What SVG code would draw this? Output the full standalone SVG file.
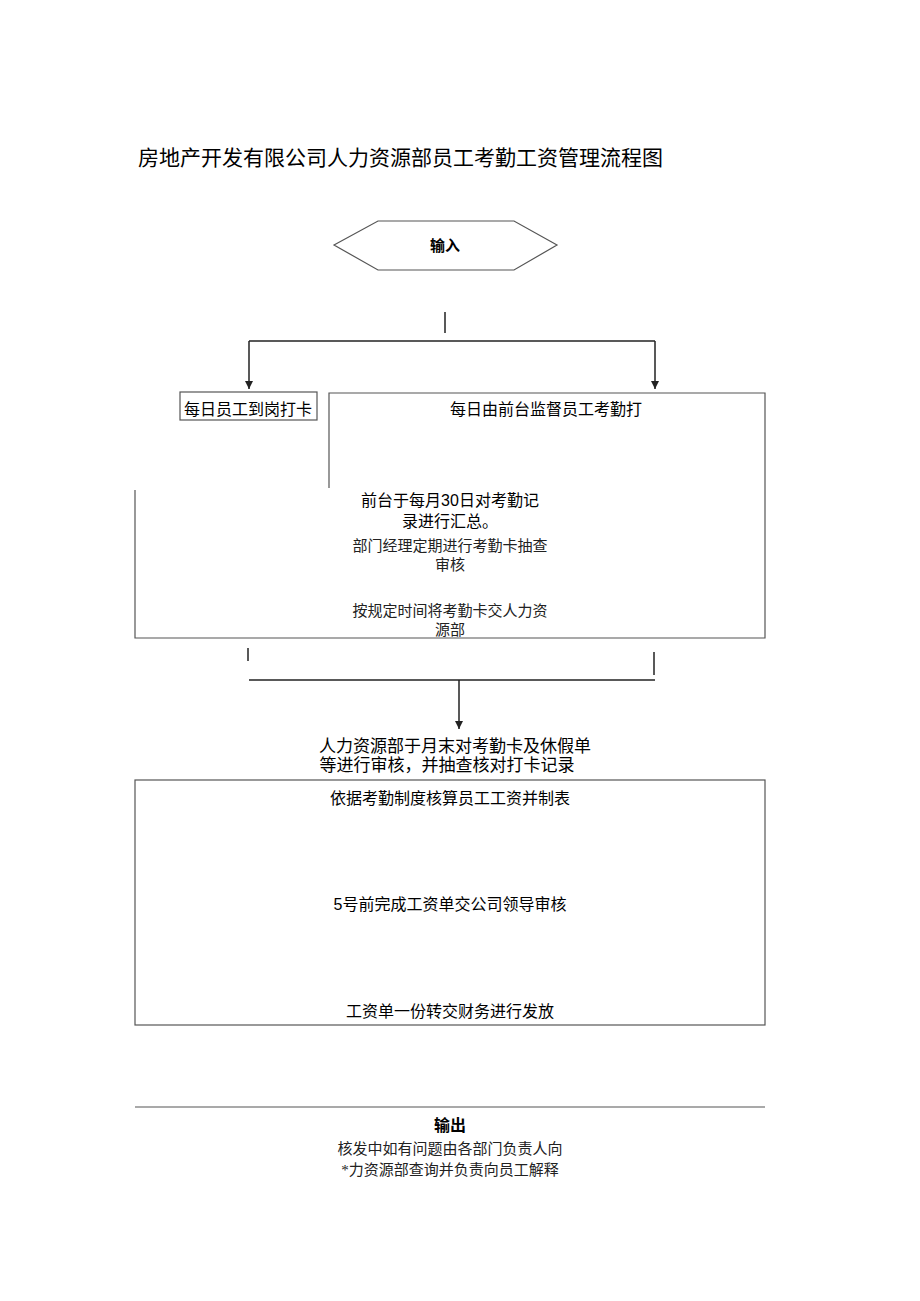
<svg xmlns="http://www.w3.org/2000/svg" width="920" height="1301" viewBox="0 0 920 1301">
<style>
.t{font-family:"Liberation Sans","Noto Sans CJK SC",sans-serif;fill:#000}
.s{font-family:"Liberation Serif","Noto Sans CJK SC",serif;fill:#222}
.b{fill:none;stroke:#555;stroke-width:1.2}
.c{fill:none;stroke:#222;stroke-width:1.5}
</style>
<defs><marker id="a" markerWidth="10" markerHeight="10" refX="9" refY="5" orient="auto" markerUnits="userSpaceOnUse"><path d="M1,1 L9,5 L1,9 Z" fill="#222"/></marker></defs>
<rect width="920" height="1301" fill="#fff"/>
<text class="t" x="138" y="165" font-size="21">房地产开发有限公司人力资源部员工考勤工资管理流程图</text>
<g id="input"><polygon class="b" points="334,245 378,221 514,221 557,245 514,270 378,270"/><text class="t" x="445" y="251" font-size="15" font-weight="bold" text-anchor="middle">输入</text></g>
<g id="n1"><rect class="b" x="180" y="392" width="137" height="28"/><text class="t" x="248" y="415" font-size="16" text-anchor="middle">每日员工到岗打卡</text></g>
<g id="n2"><path class="b" d="M329,488 V393 H765 V638 H135 V490"/>
<text class="t" x="546" y="415" font-size="16" text-anchor="middle">每日由前台监督员工考勤打</text>
<text class="t" x="450" y="506" font-size="16" text-anchor="middle">前台于每月30日对考勤记</text>
<text class="t" x="450" y="527" font-size="16" text-anchor="middle">录进行汇总。</text>
<text class="s" x="450" y="551" font-size="15" text-anchor="middle">部门经理定期进行考勤卡抽查</text>
<text class="s" x="450" y="570" font-size="15" text-anchor="middle">审核</text>
<text class="s" x="450" y="616" font-size="15" text-anchor="middle">按规定时间将考勤卡交人力资</text>
<text class="s" x="450" y="635" font-size="15" text-anchor="middle">源部</text></g>
<g id="n3"><text class="t" x="455" y="752" font-size="17" text-anchor="middle">人力资源部于月末对考勤卡及休假单</text><text class="t" x="447" y="771" font-size="17" text-anchor="middle">等进行审核，并抽查核对打卡记录</text></g>
<g id="n4"><rect class="b" x="135" y="780" width="630" height="245"/>
<text class="t" x="450" y="804" font-size="16" text-anchor="middle">依据考勤制度核算员工工资并制表</text>
<text class="t" x="450" y="910" font-size="16" text-anchor="middle">5号前完成工资单交公司领导审核</text>
<text class="t" x="450" y="1017" font-size="16" text-anchor="middle">工资单一份转交财务进行发放</text></g>
<g id="output"><line class="b" x1="135" y1="1107" x2="765" y2="1107"/>
<text class="t" x="450" y="1131" font-size="16" font-weight="bold" text-anchor="middle">输出</text>
<text class="s" x="450" y="1154" font-size="15" text-anchor="middle">核发中如有问题由各部门负责人向</text>
<text class="s" x="450" y="1175" font-size="15" text-anchor="middle">*力资源部查询并负责向员工解释</text></g>
<g id="connectors">
<line class="c" x1="445" y1="312" x2="445" y2="333"/>
<line class="c" x1="249" y1="341" x2="655" y2="341"/>
<line class="c" x1="249" y1="341" x2="249" y2="389" marker-end="url(#a)"/>
<line class="c" x1="655" y1="341" x2="655" y2="389" marker-end="url(#a)"/>
<line class="c" x1="248" y1="648" x2="248" y2="661"/>
<line class="c" x1="654" y1="652" x2="654" y2="675"/>
<line class="c" x1="249" y1="680" x2="655" y2="680"/>
<line class="c" x1="459" y1="680" x2="459" y2="729" marker-end="url(#a)"/>
</g>
</svg>
